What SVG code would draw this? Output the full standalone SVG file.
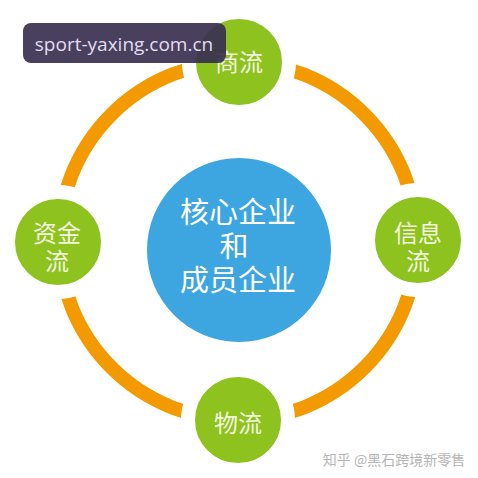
<svg xmlns="http://www.w3.org/2000/svg" width="478" height="478" viewBox="0 0 478 478">
<style>
.ring{fill:none;stroke:#F39A00;stroke-width:14}
.g{fill:#8DC21F;stroke:#ffffff;stroke-width:14}
.gt{font-family:"Noto Sans CJK SC","Noto Sans",sans-serif;font-size:24px;fill:#F2F6DE;text-anchor:middle}
.ct{font-family:"Noto Sans CJK SC","Noto Sans",sans-serif;font-size:29px;fill:#ffffff;text-anchor:middle}
</style>
<rect width="478" height="478" fill="#ffffff"/>
<g id="connectors">
<circle class="ring" cx="238" cy="241" r="179"/>
</g>
<g id="center">
<circle cx="239" cy="250" r="92" fill="#3DA6E0"/>
<text class="ct" x="238" y="223">核心企业</text>
<text class="ct" x="234" y="257">和</text>
<text class="ct" x="238" y="291">成员企业</text>
</g>
<g id="shangliu">
<circle class="g" cx="239" cy="62" r="50"/>
<text class="gt" x="239" y="71">商流</text>
</g>
<g id="zijinliu">
<circle class="g" cx="58" cy="242" r="50"/>
<text class="gt" x="57" y="242">资金</text>
<text class="gt" x="57" y="270">流</text>
</g>
<g id="xinxiliu">
<circle class="g" cx="418" cy="240" r="50"/>
<text class="gt" x="418" y="242">信息</text>
<text class="gt" x="418" y="270">流</text>
</g>
<g id="wuliu">
<circle class="g" cx="238" cy="420" r="50"/>
<text class="gt" x="238" y="432">物流</text>
</g>
<g id="watermark">
<rect x="23" y="23" width="203" height="40" rx="8" fill="#3A3050" fill-opacity="0.92"/>
<text x="124" y="51" font-family="'Open Sans','Noto Sans',sans-serif" font-size="19" fill="#E2DDF2" text-anchor="middle">sport-yaxing.com.cn</text>
</g>
<text x="394" y="465" font-family="'Noto Sans CJK SC','Noto Sans',sans-serif" font-size="14" fill="#B5B5B5" text-anchor="middle">知乎 @黑石跨境新零售</text>
</svg>
